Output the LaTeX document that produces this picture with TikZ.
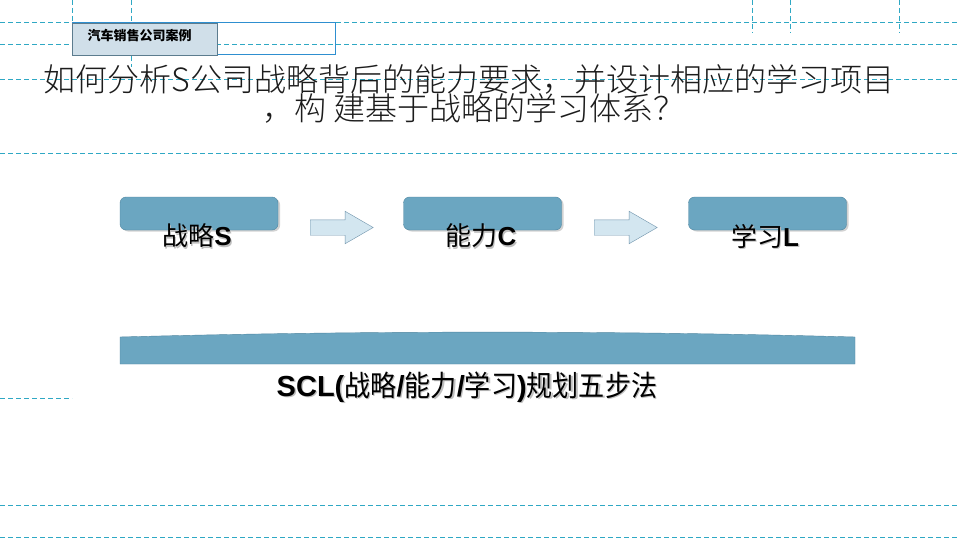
\documentclass[tikz,border=0pt]{standalone}
\usepackage{fontspec}
\setmainfont{Liberation Sans}
\newfontfamily\cjk{Noto Sans CJK SC}
\newfontfamily\cjklight{Noto Sans CJK SC}[UprightFont={* Light}]
\newfontfamily\cjknarrow{Noto Sans CJK SC}[FakeStretch=0.9]
\usetikzlibrary{shapes.arrows,shadows}
\definecolor{guidecol}{HTML}{2FA8C4}
\definecolor{stagefill}{HTML}{6BA6C1}
\definecolor{stageedge}{HTML}{4F86A0}
\definecolor{arrowfill}{HTML}{D3E6F0}
\definecolor{arrowedge}{HTML}{6F93AB}
\definecolor{casefill}{HTML}{D0DFE9}
\definecolor{caseedge}{HTML}{5C7C8E}
\definecolor{outlineblue}{HTML}{2E8FD0}
\definecolor{titlegray}{HTML}{1C1C1C}
\tikzset{>=stealth,
  guide/.style={guidecol, line width=0.7pt, dash pattern=on 5pt off 3pt},
  stage/.style={draw=stageedge, fill=stagefill, rounded corners=6pt,
    minimum width=158pt, minimum height=33pt, inner sep=0pt,
    drop shadow={shadow xshift=2pt, shadow yshift=-1.5pt, opacity=0.35}},
  stagetxt/.style={font=\fontsize{26}{26}\selectfont},
  txtshadow/.style={text=black!25},
  blockarrow/.style={single arrow, draw=arrowedge, fill=arrowfill,
    inner xsep=0pt, inner ysep=7.5pt, minimum height=63pt,
    single arrow head extend=8.5pt, single arrow tip angle=60, anchor=tail}
}

\begin{document}
\begin{tikzpicture}[x=1pt,y=-1pt]

  \fill[white] (0,0) rectangle (960,540);
  \useasboundingbox (0,0) rectangle (960,540);

  \foreach \y in {22,44,79,153,505,537}
    \draw[guide] (0,\y)--(960,\y);
  \draw[guide] (0,398)--(72,398);
  \draw[guide] (72,0)--(72,22);
  \draw[guide] (131,0)--(131,67);
  \foreach \x in {752,790,899}
    \draw[guide] (\x,0)--(\x,33);

  \draw[outlineblue, line width=0.8pt] (72,22) rectangle (335,54);
  \node[draw=caseedge, fill=casefill, anchor=north west, inner sep=0pt,
    minimum width=145pt, minimum height=32pt] (case) at (72,23) {};
  \node[anchor=west, font=\cjk\fontsize{13}{13}\selectfont\bfseries] (casetxt)
    at (84,36) {汽车销售公司案例};

  \node[titlegray, font=\cjklight\fontsize{32}{32}\selectfont] (q1) at (469,79)
    {如何分析S公司战略背后的能力要求，并设计相应的学习项目};
  \node[titlegray, font=\cjklight\fontsize{32}{32}\selectfont] (q2) at (474,108)
    {，构 建基于战略的学习体系？};

  \node[stage] (s) at (199,213.5) {};
  \node[stage] (c) at (482.5,213.5) {};
  \node[stage] (l) at (767.5,213.5) {};

  \foreach \name/\x/\zh/\en in {stxt/197/战略/S, ctxt/481/能力/C, ltxt/765/学习/L}{
    \node[stagetxt, txtshadow] at (\x+1.3,237.3) {{\cjk \zh}\textbf{\en}};
    \node[stagetxt] (\name) at (\x,236) {{\cjk \zh}\textbf{\en}};
  }

  \node[blockarrow] (sc) at (310,227.5) {};
  \node[blockarrow] (cl) at (594,227.5) {};

  \draw[stageedge, fill=stagefill] (120,364)--(120,337)
    .. controls (360,330.5) and (615,330.5) .. (855,337)--(855,364)--cycle;
  \node[txtshadow, font=\fontsize{29}{29}\selectfont] at (468.3,388.3)
    {\textbf{SCL(}{\cjknarrow 战略}\textbf{/}{\cjknarrow 能力}\textbf{/}{\cjknarrow 学习}\textbf{)}{\cjknarrow 规划五步法}};
  \node[font=\fontsize{29}{29}\selectfont] (scl) at (467,387)
    {\textbf{SCL(}{\cjknarrow 战略}\textbf{/}{\cjknarrow 能力}\textbf{/}{\cjknarrow 学习}\textbf{)}{\cjknarrow 规划五步法}};

\end{tikzpicture}
\end{document}
